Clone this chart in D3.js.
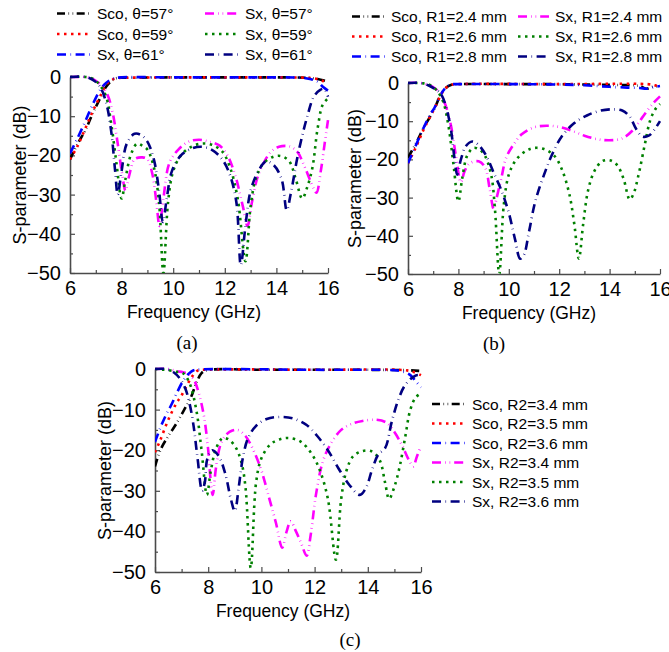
<!DOCTYPE html>
<html>
<head>
<meta charset="utf-8">
<script src="https://cdn.jsdelivr.net/npm/d3@7/dist/d3.min.js"></script>
<style>
  html, body { margin: 0; padding: 0; background: #fff; }
  svg text { font-family: Arial, "Liberation Sans", sans-serif; fill: #000; }
</style>
</head>
<body>
<svg id="fig" width="669" height="652"></svg>
<script>
// ---- Shared axis settings ----
const freqTicks = [6, 8, 10, 12, 14, 16];
const dbTicks = [0, -10, -20, -30, -40, -50];

// ---- Panel (a): incidence angle θ ----
const scoA57 = [[6,-21],[6.3,-17],[6.6,-13.5],[6.9,-9],[7.2,-5],[7.4,-2.5],[7.6,-1],[7.8,-0.3],[8.2,-0.2],[10,-0.1],[12,-0.1],[14,-0.1],[15.2,-0.2],[15.6,-0.5],[16,-1.2]];
const scoA59 = [[6,-21],[6.3,-17.5],[6.6,-13],[6.9,-8.5],[7.2,-4.5],[7.4,-2],[7.6,-0.8],[7.8,-0.3],[8.2,-0.2],[10,-0.1],[12,-0.1],[14,-0.1],[15.2,-0.2],[15.5,-0.4],[15.8,-1],[16,-1.6]];
const sxA61b = [[6,-19.5],[6.3,-15.5],[6.6,-11.2],[6.9,-6.7],[7.2,-3],[7.4,-1.5],[7.6,-0.6],[7.8,-0.2],[10,-0.1],[12,-0.1],[14,-0.1],[15,-0.2],[15.3,-0.5],[15.6,-1.2],[15.8,-2.5],[16,-3.5]];
const sxA57 = [[6,0],[6.5,0],[6.8,-0.3],[7.0,-1],[7.2,-2],[7.45,-4.5],[7.65,-9],[7.85,-17],[8.05,-26],[8.15,-29],[8.3,-25],[8.5,-21],[8.8,-20.5],[9.0,-21],[9.2,-25],[9.35,-32],[9.47,-38],[9.62,-31],[9.85,-22],[10.2,-18.5],[10.6,-16.5],[11.0,-16],[11.4,-16.5],[11.8,-17.5],[12.1,-20],[12.4,-25],[12.7,-33],[12.88,-38],[13.05,-32],[13.25,-26],[13.5,-22],[13.8,-19],[14.1,-17.8],[14.5,-17.7],[14.8,-19],[15.1,-23],[15.35,-27],[15.55,-29.5],[15.72,-24],[15.87,-17],[16,-11]];
const sxA59 = [[6,0],[6.6,0],[6.9,-0.5],[7.15,-2],[7.4,-5],[7.6,-12],[7.8,-22],[8.0,-31],[8.15,-26],[8.35,-20],[8.6,-17],[8.8,-17.5],[9.0,-18.5],[9.25,-23],[9.45,-32],[9.62,-50],[9.8,-32],[10.0,-24],[10.3,-20],[10.7,-17.8],[11.1,-17],[11.5,-17.3],[11.9,-19],[12.2,-23],[12.5,-31],[12.8,-47],[13.0,-33],[13.2,-26],[13.5,-22],[13.9,-20.3],[14.2,-20.2],[14.5,-21.5],[14.75,-26],[15.0,-31],[15.2,-28],[15.4,-23],[15.6,-13],[15.8,-7],[16,-5.5]];
const sxA61 = [[6,0],[6.6,0],[6.9,-0.8],[7.15,-2.3],[7.4,-6.5],[7.6,-14],[7.75,-24],[7.85,-30],[8.0,-24],[8.2,-17],[8.5,-14.5],[8.75,-14.8],[9.0,-16.5],[9.25,-21],[9.45,-29],[9.6,-37],[9.75,-31],[9.95,-24],[10.3,-20],[10.7,-18.3],[11.1,-17.8],[11.5,-18.6],[11.9,-21],[12.2,-25],[12.45,-32],[12.62,-48],[12.8,-38],[13.0,-29],[13.3,-24],[13.6,-21.5],[13.9,-22.5],[14.2,-26],[14.4,-34],[14.55,-30],[14.8,-21],[15.0,-15],[15.2,-10],[15.45,-5],[15.7,-3.3],[15.85,-3],[16,-5]];

// ---- Panel (b): radius R1 ----
const scoB24 = [[6,-19.5],[6.3,-16],[6.6,-12],[6.9,-8.5],[7.1,-6],[7.3,-3],[7.5,-1.3],[7.7,-0.5],[8,-0.3],[10,-0.3],[12,-0.3],[13,-0.4],[14,-0.5],[15,-0.6],[15.25,-0.9],[15.45,-1.5],[15.7,-1],[16,-0.7]];
const scoB26 = [[6,-21],[6.3,-17],[6.6,-12.5],[6.9,-8.5],[7.1,-6],[7.3,-3.2],[7.5,-1.3],[7.7,-0.5],[8,-0.3],[12,-0.3],[15.5,-0.3],[15.8,-0.6],[16,-1.2]];
const scoB28 = [[6,-21],[6.3,-16.5],[6.6,-12],[6.9,-8],[7.05,-6.5],[7.3,-3],[7.5,-1.2],[7.7,-0.4],[8,-0.3],[12,-0.4],[13,-0.6],[14,-1.0],[14.7,-1.2],[15.2,-1.3],[15.5,-1.5],[15.8,-1.0],[16,-0.8]];
const sxB24 = [[6,0],[6.5,0],[6.8,-0.5],[7.05,-1.3],[7.3,-3],[7.5,-6],[7.7,-11],[7.9,-19],[8.1,-26],[8.25,-23],[8.45,-21],[8.8,-20.5],[9.05,-22],[9.25,-28],[9.4,-33],[9.52,-30],[9.7,-25],[9.9,-19.5],[10.2,-16],[10.5,-13.5],[11.0,-11.6],[11.5,-11.2],[12.0,-11.5],[12.5,-12.5],[13.0,-13.8],[13.5,-14.7],[14.0,-15],[14.5,-14.5],[14.9,-12.5],[15.3,-9],[15.7,-5.5],[16,-3.5]];
const sxB26 = [[6,0],[6.6,-0.1],[6.9,-0.6],[7.15,-2],[7.4,-5],[7.6,-11],[7.8,-21],[8.0,-31],[8.15,-25],[8.35,-19],[8.6,-17],[8.85,-17.5],[9.05,-19],[9.3,-24],[9.45,-33],[9.62,-50],[9.8,-32],[10.0,-24],[10.3,-20],[10.7,-17.7],[11.0,-17],[11.4,-17.3],[11.8,-19],[12.1,-22.5],[12.4,-29],[12.6,-37],[12.78,-46],[12.95,-37],[13.15,-28],[13.4,-23],[13.7,-20.5],[14.0,-20.2],[14.3,-21.5],[14.55,-25],[14.8,-30.5],[14.95,-29],[15.15,-24],[15.4,-16],[15.6,-10],[15.8,-7],[16,-5.5]];
const sxB28 = [[6,0],[6.5,0],[6.8,-0.6],[7.05,-1.5],[7.3,-2.8],[7.5,-6],[7.7,-12],[7.85,-20],[7.95,-24],[8.1,-20],[8.3,-16.5],[8.55,-15.3],[8.8,-16.2],[9.1,-19],[9.4,-23.5],[9.7,-28],[10.0,-34],[10.25,-41],[10.45,-46],[10.6,-45],[10.8,-39],[11.05,-31],[11.4,-24],[11.7,-19],[12.1,-14],[12.6,-10.5],[13.1,-8.5],[13.6,-7.3],[14.1,-6.9],[14.5,-7.2],[14.8,-8.8],[15.05,-12],[15.3,-14],[15.55,-13.8],[15.8,-12],[16,-10]];

// ---- Panel (c): radius R2 ----
const scoC34 = [[6,-24],[6.2,-20],[6.5,-16.5],[6.8,-13.5],[7.1,-10],[7.35,-7],[7.55,-3.5],[7.75,-1],[7.95,-0.3],[10,-0.2],[12,-0.2],[14,-0.2],[15.5,-0.3],[16,-0.5]];
const scoC35 = [[6,-20.5],[6.2,-17.5],[6.5,-12.5],[6.8,-8.5],[7.0,-6.5],[7.2,-4],[7.4,-1.8],[7.6,-0.4],[7.8,-0.2],[12,-0.2],[15.4,-0.3],[15.7,-0.7],[16,-1.5]];
const scoC36 = [[6,-18],[6.2,-14.5],[6.4,-11.5],[6.6,-9],[6.85,-5.5],[7.05,-3],[7.25,-1.3],[7.45,-0.3],[7.7,-0.1],[12,-0.2],[15,-0.3],[15.3,-0.6],[15.6,-1.5],[15.8,-3],[16,-4.5]];
const sxC34 = [[6,0],[6.5,0],[6.8,-0.5],[7.05,-0.8],[7.25,-1.2],[7.45,-2.5],[7.65,-6],[7.85,-12],[8.0,-20],[8.1,-28],[8.17,-31],[8.3,-24],[8.5,-18],[8.8,-15.5],[9.1,-15],[9.4,-16.5],[9.7,-20],[10.0,-25],[10.3,-32],[10.55,-38],[10.78,-44],[10.95,-40],[11.1,-37.5],[11.3,-40],[11.5,-43],[11.7,-46],[11.85,-41],[12.05,-31],[12.3,-23],[12.6,-18.5],[13.0,-15],[13.4,-13.5],[13.8,-12.8],[14.3,-12.5],[14.7,-13.2],[15.0,-15.5],[15.3,-19],[15.55,-22.5],[15.7,-24],[15.85,-21.5],[16,-19]];
const sxC35 = [[6,0],[6.5,-0.3],[6.8,-0.7],[7.05,-1],[7.3,-3.5],[7.55,-10],[7.75,-20],[7.95,-31],[8.1,-25],[8.3,-19.5],[8.55,-17],[8.8,-17.5],[9.05,-19.5],[9.25,-23],[9.4,-29],[9.6,-49],[9.8,-28],[10.0,-22],[10.35,-18.5],[10.7,-17.3],[11.05,-17],[11.5,-18],[11.9,-21],[12.2,-25],[12.5,-32],[12.8,-47],[13.0,-32],[13.2,-25],[13.45,-21.5],[13.8,-20.2],[14.15,-20.3],[14.45,-22.5],[14.65,-28],[14.8,-32],[15.0,-29],[15.2,-24],[15.4,-17],[15.6,-10],[15.8,-7],[16,-6]];
const sxC36 = [[6,0],[6.4,0],[6.7,-0.8],[6.95,-2.5],[7.15,-5],[7.3,-8.5],[7.45,-14],[7.6,-22],[7.77,-30],[7.87,-28],[7.97,-22],[8.15,-20],[8.4,-21.5],[8.65,-26],[8.85,-32],[9.0,-35],[9.15,-29],[9.3,-22],[9.5,-17],[9.8,-14],[10.2,-12.3],[10.7,-11.8],[11.2,-12.2],[11.7,-13.8],[12.1,-16.5],[12.5,-20],[12.9,-24.5],[13.3,-28.5],[13.7,-31],[13.95,-29],[14.15,-25],[14.4,-21],[14.65,-19.5],[14.9,-13],[15.15,-7.5],[15.4,-4],[15.7,-2],[15.9,-1.5],[16,-2]];

// ---- Legend labels ----
const labelsA = ["Sco, θ=57°", "Sco, θ=59°", "Sx, θ=61°", "Sx, θ=57°", "Sx, θ=59°", "Sx, θ=61°"];
const labelsB = ["Sco, R1=2.4 mm", "Sco, R1=2.6 mm", "Sco, R1=2.8 mm", "Sx, R1=2.4 mm", "Sx, R1=2.6 mm", "Sx, R1=2.8 mm"];
const labelsC = ["Sco, R2=3.4 mm", "Sco, R2=3.5 mm", "Sco, R2=3.6 mm", "Sx, R2=3.4 mm", "Sx, R2=3.5 mm", "Sx, R2=3.6 mm"];

// line styles, in series order: Sco×3 then Sx×3 (dots kept hairline-thin)
const styles = [
  { color: "#000000", dash: "8,3.5,0.6,3.5,0.6,3.5" },
  { color: "#ff0000", dash: "2.5,4.5" },
  { color: "#0000ff", dash: "9,4.5,0.6,4.5" },
  { color: "#ff00ff", dash: "9,4,0.6,4,0.6,4" },
  { color: "#008000", dash: "2.5,4.5" },
  { color: "#000080", dash: "9,4.5,0.6,4.5" }
];

const svg = d3.select("#fig");
const axisColor = "#4a4a4a";

function drawPanel(cfg) {
  const x = d3.scaleLinear().domain([6, 16]).range([cfg.x0, cfg.x1]);
  const y = d3.scaleLinear().domain([-50, 0]).range([cfg.y1, cfg.y0]);
  const g = svg.append("g");

  const clipId = "clip-" + cfg.id;
  svg.append("defs").append("clipPath").attr("id", clipId)
    .append("rect")
    .attr("x", cfg.x0).attr("y", cfg.y0 - 4)
    .attr("width", cfg.x1 - cfg.x0 + 4).attr("height", cfg.y1 - cfg.y0 + 4);

  // inward major + minor ticks, left and bottom axes only
  const xAxis = d3.axisBottom(x).tickValues(freqTicks).tickSizeInner(-5).tickSizeOuter(0).tickPadding(8);
  const yAxis = d3.axisLeft(y).tickValues(dbTicks).tickSizeInner(-5).tickSizeOuter(0).tickPadding(9);
  const xMinor = d3.axisBottom(x).tickValues(d3.range(7, 16, 2)).tickSize(-3).tickFormat("");
  const yMinor = d3.axisLeft(y).tickValues(d3.range(-45, 0, 10)).tickSize(-3).tickFormat("");

  const gx = g.append("g").attr("transform", `translate(0,${cfg.y1})`).call(xAxis);
  const gy = g.append("g").attr("transform", `translate(${cfg.x0},0)`).call(yAxis);
  g.append("g").attr("transform", `translate(0,${cfg.y1})`).call(xMinor).select(".domain").remove();
  g.append("g").attr("transform", `translate(${cfg.x0},0)`).call(yMinor).select(".domain").remove();

  g.selectAll(".domain").attr("stroke", axisColor).attr("stroke-width", 1.6);
  g.selectAll(".tick line").attr("stroke", axisColor).attr("stroke-width", 1.2);
  gx.selectAll(".tick text").attr("font-size", "20px").attr("font-family", "Arial, 'Liberation Sans', sans-serif").attr("fill", "#000");
  gy.selectAll(".tick text").attr("font-size", "20px").attr("font-family", "Arial, 'Liberation Sans', sans-serif").attr("fill", "#000");

  // curves
  const line = d3.line()
    .x(d => x(d[0])).y(d => y(d[1]))
    .curve(d3.curveCatmullRom.alpha(0.5));
  const plot = g.append("g").attr("clip-path", `url(#${clipId})`);
  cfg.series.forEach((s, i) => {
    plot.append("path")
      .datum(s)
      .attr("d", line)
      .attr("fill", "none")
      .attr("stroke", styles[i].color)
      .attr("stroke-width", 2.6)
      .attr("stroke-dasharray", styles[i].dash);
  });

  // axis titles
  g.append("text")
    .attr("x", (cfg.x0 + cfg.x1) / 2 - 5).attr("y", cfg.y1 + 45)
    .attr("text-anchor", "middle").attr("font-size", "17.5px")
    .text("Frequency (GHz)");
  g.append("text")
    .attr("transform", `translate(${cfg.ytx},${(cfg.y0 + cfg.y1) / 2}) rotate(-90)`)
    .attr("text-anchor", "middle").attr("font-size", "18px")
    .text("S-parameter (dB)");

  // caption
  g.append("text")
    .attr("x", cfg.capX).attr("y", cfg.capY)
    .attr("text-anchor", "middle").attr("font-size", "19px")
    .style("font-family", "'Times New Roman', 'Liberation Serif', serif")
    .text(cfg.caption);

  // legend
  const lg = g.append("g");
  cfg.legend.forEach((L, i) => {
    lg.append("line")
      .attr("x1", L.lx).attr("x2", L.lx + L.len)
      .attr("y1", L.y).attr("y2", L.y)
      .attr("stroke", styles[i].color).attr("stroke-width", 2.6)
      .attr("stroke-dasharray", styles[i].dash);
    lg.append("text")
      .attr("x", L.tx).attr("y", L.y + 5.5)
      .attr("font-size", "15.5px")
      .text(cfg.labels[i]);
  });
}

const rowsA = [13.5, 34, 54.5];
drawPanel({
  id: "a", x0: 70, x1: 328, y0: 77, y1: 273, ytx: 26,
  caption: "(a)", capX: 187, capY: 349,
  series: [scoA57, scoA59, sxA61b, sxA57, sxA59, sxA61],
  labels: labelsA,
  legend: [
    { lx: 57, len: 33, tx: 97, y: rowsA[0] }, { lx: 57, len: 33, tx: 97, y: rowsA[1] }, { lx: 57, len: 33, tx: 97, y: rowsA[2] },
    { lx: 205, len: 34, tx: 245, y: rowsA[0] }, { lx: 205, len: 34, tx: 245, y: rowsA[1] }, { lx: 205, len: 34, tx: 245, y: rowsA[2] }
  ]
});

const rowsB = [16.5, 36.5, 56.5];
drawPanel({
  id: "b", x0: 408, x1: 660, y0: 83, y1: 274, ytx: 361,
  caption: "(b)", capX: 494, capY: 350,
  series: [scoB24, scoB26, scoB28, sxB24, sxB26, sxB28],
  labels: labelsB,
  legend: [
    { lx: 352, len: 33, tx: 391, y: rowsB[0] }, { lx: 352, len: 33, tx: 391, y: rowsB[1] }, { lx: 352, len: 33, tx: 391, y: rowsB[2] },
    { lx: 518, len: 31, tx: 555, y: rowsB[0] }, { lx: 518, len: 31, tx: 555, y: rowsB[1] }, { lx: 518, len: 31, tx: 555, y: rowsB[2] }
  ]
});

const rowsC = [404, 423.5, 443, 462.5, 482, 501.5];
drawPanel({
  id: "c", x0: 155, x1: 421, y0: 369, y1: 572, ytx: 111,
  caption: "(c)", capX: 350, capY: 646,
  series: [scoC34, scoC35, scoC36, sxC34, sxC35, sxC36],
  labels: labelsC,
  legend: rowsC.map(r => ({ lx: 432, len: 35, tx: 472, y: r }))
});
</script>
</body>
</html>
